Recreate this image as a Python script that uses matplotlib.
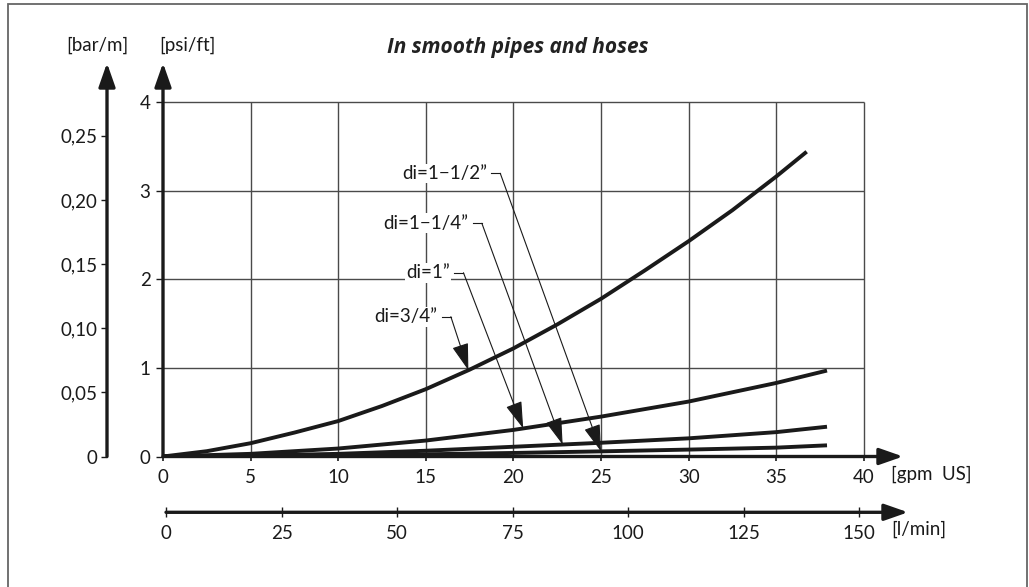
import numpy as np
import matplotlib
matplotlib.use('Agg')
import matplotlib.pyplot as plt
from matplotlib.patches import Rectangle

# ---------------- data ----------------
gpm_34 = [0, 2.5, 5, 7.5, 10, 12.5, 15, 17.5, 20, 22.5, 25, 27.5, 30, 32.5, 35, 36.74]
psi_34 = [0, 0.06, 0.15, 0.27, 0.40, 0.57, 0.76, 0.98, 1.22, 1.49, 1.78, 2.10, 2.43, 2.78, 3.16, 3.44]

gpm_1 = [0, 5, 10, 15, 20, 25, 30, 35, 37.9]
psi_1 = [0, 0.03, 0.09, 0.18, 0.30, 0.45, 0.62, 0.83, 0.97]

gpm_114 = [0, 5, 10, 15, 20, 25, 30, 35, 37.9]
psi_114 = [0, 0.01, 0.03, 0.065, 0.11, 0.155, 0.205, 0.275, 0.336]

gpm_112 = [0, 5, 10, 15, 20, 25, 30, 35, 37.9]
psi_112 = [0, 0.004, 0.012, 0.025, 0.04, 0.058, 0.078, 0.1, 0.126]

labels = ['di=3/4\u201d', 'di=1\u201d', 'di=1\u22121/4\u201d', 'di=1\u22121/2\u201d']
arrow_gpm = [17.43, 20.56, 22.81, 25.0]

gpm_ticks = [0, 5, 10, 15, 20, 25, 30, 35, 40]
psi_ticks = [0, 1, 2, 3, 4]
bar_ticks = [0, 0.05, 0.10, 0.15, 0.20, 0.25]
bar_labels = ['0', '0,05', '0,10', '0,15', '0,20', '0,25']
lmin_ticks = [0, 25, 50, 75, 100, 125, 150]

# ---------------- layout ----------------
W, H = 1029, 587
fig = plt.figure(figsize=(W / 100, H / 100), dpi=100)
FONT = 'Lato'
FS = 13.5
INK = '#1a1a1a'

px_x0, px_x1 = 163, 903
px_y0, px_y1 = 456.5, 63
ax = fig.add_axes([px_x0 / W, (H - px_y0) / H, (px_x1 - px_x0) / W, (px_y0 - px_y1) / H])
ax.set_xlim(0, (px_x1 - px_x0) / 17.52)
ax.set_ylim(0, (px_y0 - px_y1) / 88.6)
for s in ax.spines.values():
    s.set_visible(False)
ax.patch.set_alpha(0)

# grid
ax.vlines(gpm_ticks[1:], 0, psi_ticks[-1], color='#4a4a4a', lw=1.0, zorder=1)
ax.hlines(psi_ticks[1:], 0, gpm_ticks[-1], color='#4a4a4a', lw=1.0, zorder=1)

# curves
curves = [(gpm_34, psi_34), (gpm_1, psi_1), (gpm_114, psi_114), (gpm_112, psi_112)]
for gx, gy in curves:
    ax.plot(gx, gy, color=INK, lw=2.8, solid_capstyle='butt', solid_joinstyle='round', zorder=4)

arrow_style = '-|>,head_length=1.2,head_width=0.42'
axis_arrow = dict(arrowstyle=arrow_style, lw=2.4, color=INK, mutation_scale=12, shrinkA=0, shrinkB=0)
ax.annotate('', xy=(0, 1), xytext=(0, 0), xycoords='axes fraction',
            arrowprops=axis_arrow, annotation_clip=False, zorder=5)
ax.annotate('', xy=(1, 0), xytext=(0, 0), xycoords='axes fraction',
            arrowprops=axis_arrow, annotation_clip=False, zorder=5)

ax.set_xticks(gpm_ticks)
ax.set_xticklabels([str(t) for t in gpm_ticks], family=FONT, fontsize=FS)
ax.set_yticks(psi_ticks)
ax.set_yticklabels([str(t) for t in psi_ticks], family=FONT, fontsize=FS)
ax.tick_params(axis='x', direction='out', length=3, width=1.2, pad=6, colors=INK)
ax.tick_params(axis='y', direction='out', length=5, width=1.0, pad=4, colors=INK)

# bar/m axis
bar_pos = (107 - px_x0) / (px_x1 - px_x0)
ax2 = ax.twinx()
ax2.set_ylim(0, (px_y0 - px_y1) / 1283.0)
for s in ax2.spines.values():
    s.set_visible(False)
ax2.yaxis.tick_left()
ax2.spines['left'].set_position(('axes', bar_pos))
ax2.set_yticks(bar_ticks)
ax2.set_yticklabels(bar_labels, family=FONT, fontsize=FS)
ax2.tick_params(axis='y', direction='out', length=4, width=1.0, pad=3, colors=INK)
ax2.annotate('', xy=(bar_pos, 1), xytext=(bar_pos, 0), xycoords='axes fraction',
             arrowprops=axis_arrow, annotation_clip=False)

# l/min axis
lx0, lx1, ly = 166, 908, 512.3
ax3 = fig.add_axes([lx0 / W, (H - ly) / H, (lx1 - lx0) / W, 0.0001])
ax3.set_xlim(0, (lx1 - lx0) / 4.622)
ax3.set_yticks([])
for s in ax3.spines.values():
    s.set_visible(False)
ax3.patch.set_alpha(0)
ax3.annotate('', xy=(1, 0), xytext=(0, 0), xycoords='axes fraction',
             arrowprops=axis_arrow, annotation_clip=False)
ax3.set_xticks(lmin_ticks)
ax3.set_xticklabels([str(t) for t in lmin_ticks], family=FONT, fontsize=FS)
ax3.tick_params(axis='x', direction='inout', length=7, width=1.0, pad=6, colors=INK)

# annotations
text_right = [15.66, 16.38, 17.43, 18.48]
text_y = [1.578, 2.074, 2.632, 3.196]
for lab, ag, (cx, cy), tr, ty in zip(labels, arrow_gpm, curves, text_right, text_y):
    tip_y = float(np.interp(ag, cx, cy))
    ax.text(tr, ty, lab, ha='right', va='center', family=FONT, fontsize=FS, color=INK,
            bbox=dict(facecolor='white', edgecolor='none', pad=1.0), zorder=3)
    start = tr + 0.25
    elbow = start + 0.52
    ax.plot([start, elbow], [ty, ty], color=INK, lw=0.8, zorder=3)
    ax.annotate('', xy=(ag, tip_y), xytext=(elbow, ty),
                arrowprops=dict(arrowstyle='-|>,head_length=1.3,head_width=0.4', lw=0.8,
                                color=INK, mutation_scale=13, shrinkA=0, shrinkB=0), zorder=6)

# unit labels & title
fig.text(891 / W, (H - 474) / H, '[gpm  US]', ha='left', va='center', family=FONT, fontsize=FS, color=INK)
fig.text(891 / W, (H - 529) / H, '[l/min]', ha='left', va='center', family=FONT, fontsize=FS, color=INK)
fig.text(97 / W, (H - 45) / H, '[bar/m]', ha='center', va='center', family=FONT, fontsize=FS, color=INK)
fig.text(187 / W, (H - 45) / H, '[psi/ft]', ha='center', va='center', family=FONT, fontsize=FS, color=INK)
fig.text(518 / W, (H - 48) / H, 'In smooth pipes and hoses', ha='center', va='center',
         family='Open Sans', fontsize=15, fontweight='bold', fontstyle='italic', color='#222222')

# outer frame
fig.patches.append(Rectangle((8 / W, -0.05), (1027 - 8) / W, (H - 4) / H + 0.05,
                             transform=fig.transFigure, fill=False, edgecolor='#666666', lw=1.3))

fig.savefig('out.png', dpi=100)
